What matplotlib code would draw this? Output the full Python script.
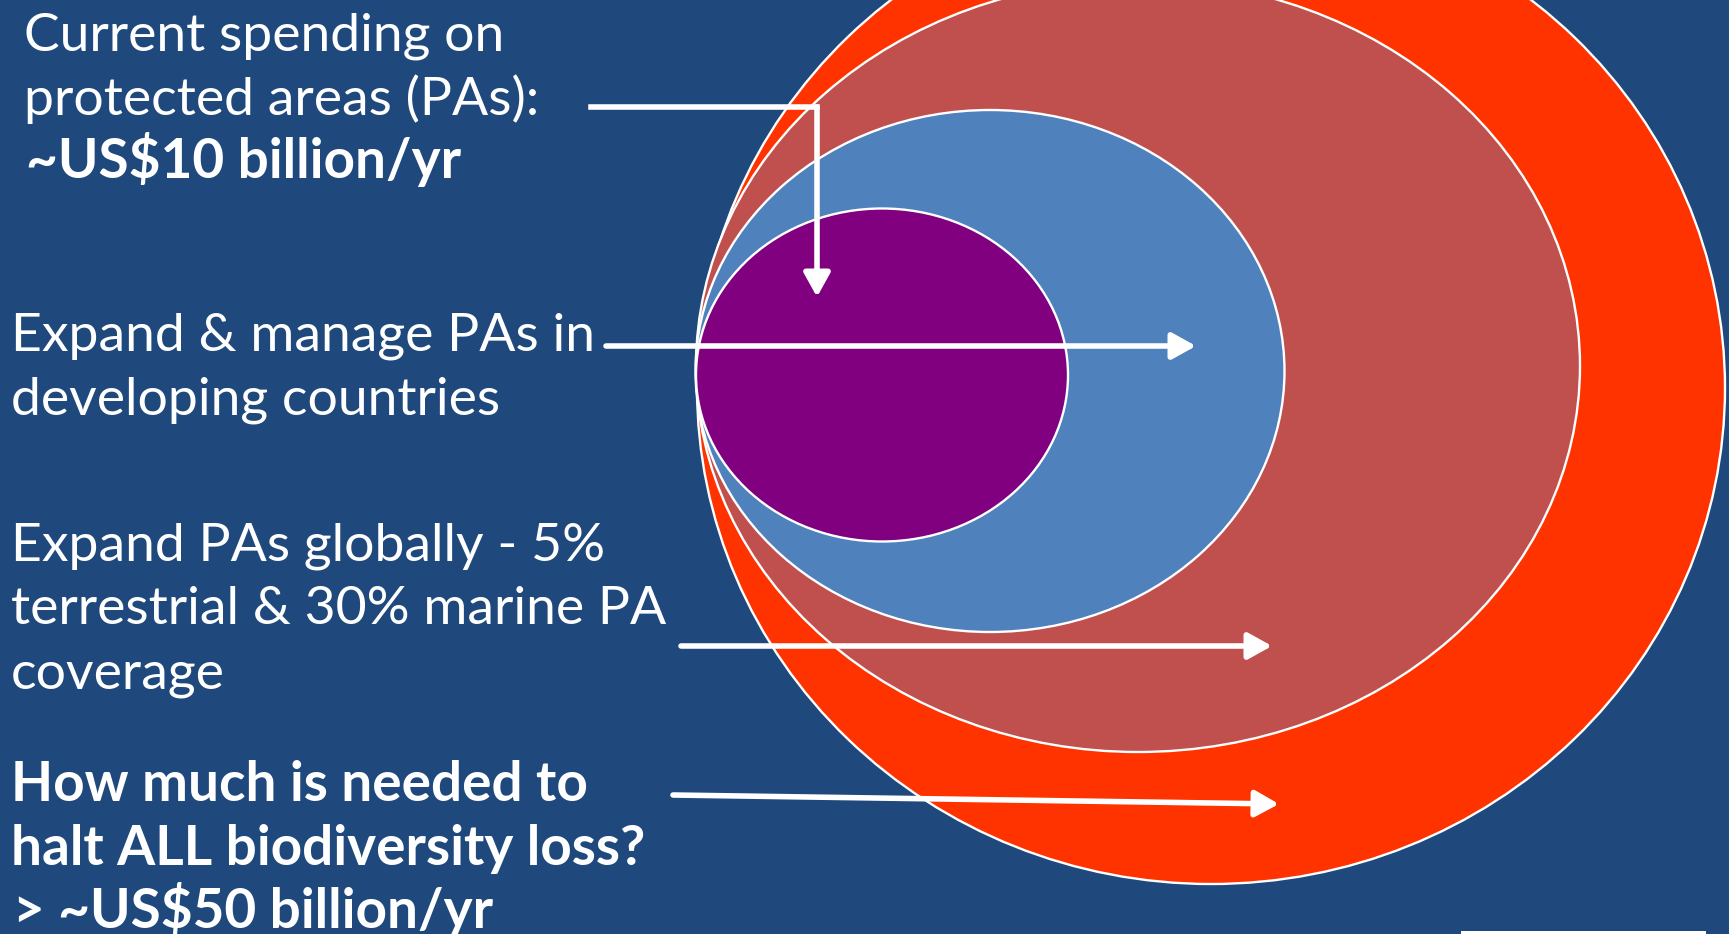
import matplotlib
matplotlib.use("Agg")
import matplotlib.pyplot as plt
from matplotlib.patches import Ellipse, Rectangle

# ---- data -------------------------------------------------------------
layer_names = ["Halt all biodiversity loss", "Expand PAs globally",
               "Expand & manage PAs in developing countries", "Current spending"]
layer_colors = ["#FF3300", "#C0504D", "#4F81BD", "#800080"]
layer_cx = [1211, 1138, 990, 882]
layer_cy = [388, 366, 371, 375]
layer_w = [1028, 884, 589, 372]
layer_h = [992, 772, 522, 333]

label_lines = [
    "Current spending on", "protected areas (PAs):", "~US$10 billion/yr",
    "Expand & manage PAs in", "developing countries",
    "Expand PAs globally - 5%", "terrestrial & 30% marine PA", "coverage",
    "How much is needed to", "halt ALL biodiversity loss?", "> ~US$50 billion/yr",
]
label_bold = [False, False, True, False, False, False, False, False, True, True, True]
label_x = [24, 24, 26, 11, 11, 11, 11, 11, 11, 11, 13]
label_y = [51, 115, 178, 351, 415, 560, 624, 688, 801, 865, 928]

# arrows: (start, end)
arrow_starts = [(817, 107), (606, 346), (681, 646), (673, 795)]
arrow_ends = [(817, 297), (1196, 346), (1272, 646), (1279, 804)]
elbow_start = (591, 107)

BG = "#1F497D"
W, H = 1729, 934

fig = plt.figure(figsize=(W / 100, H / 100), dpi=100)
fig.patch.set_facecolor(BG)
ax = fig.add_axes([0, 0, 1, 1])
ax.set_facecolor(BG)
ax.set_xlim(0, W)
ax.set_ylim(H, 0)
ax.axis("off")

for cx, cy, w, h, c in zip(layer_cx, layer_cy, layer_w, layer_h, layer_colors):
    ax.add_patch(Ellipse((cx, cy), w, h, facecolor=c, edgecolor="white", lw=1.7, zorder=2))

for t, b, x, y in zip(label_lines, label_bold, label_x, label_y):
    ax.text(x, y, t, color="white", fontsize=39.5 if b else 38.5,
            family=["Lato", "DejaVu Sans"],
            fontweight="bold" if b else "normal", va="baseline", ha="left", zorder=5)

# elbow segment of first arrow
ax.plot([elbow_start[0], arrow_starts[0][0]], [elbow_start[1], arrow_starts[0][1]],
        color="white", lw=4.0, solid_capstyle="projecting", zorder=4)
for s, e in zip(arrow_starts, arrow_ends):
    ax.annotate("", xy=e, xytext=s,
                arrowprops=dict(arrowstyle="-|>,head_length=0.9,head_width=0.5",
                                color="white", lw=4.0, mutation_scale=16,
                                shrinkA=0, shrinkB=0), zorder=4)

ax.add_patch(Rectangle((1461, 931), 245, 4, facecolor="white", edgecolor="none", zorder=3))

fig.savefig("out.png", dpi=100, facecolor=BG)
